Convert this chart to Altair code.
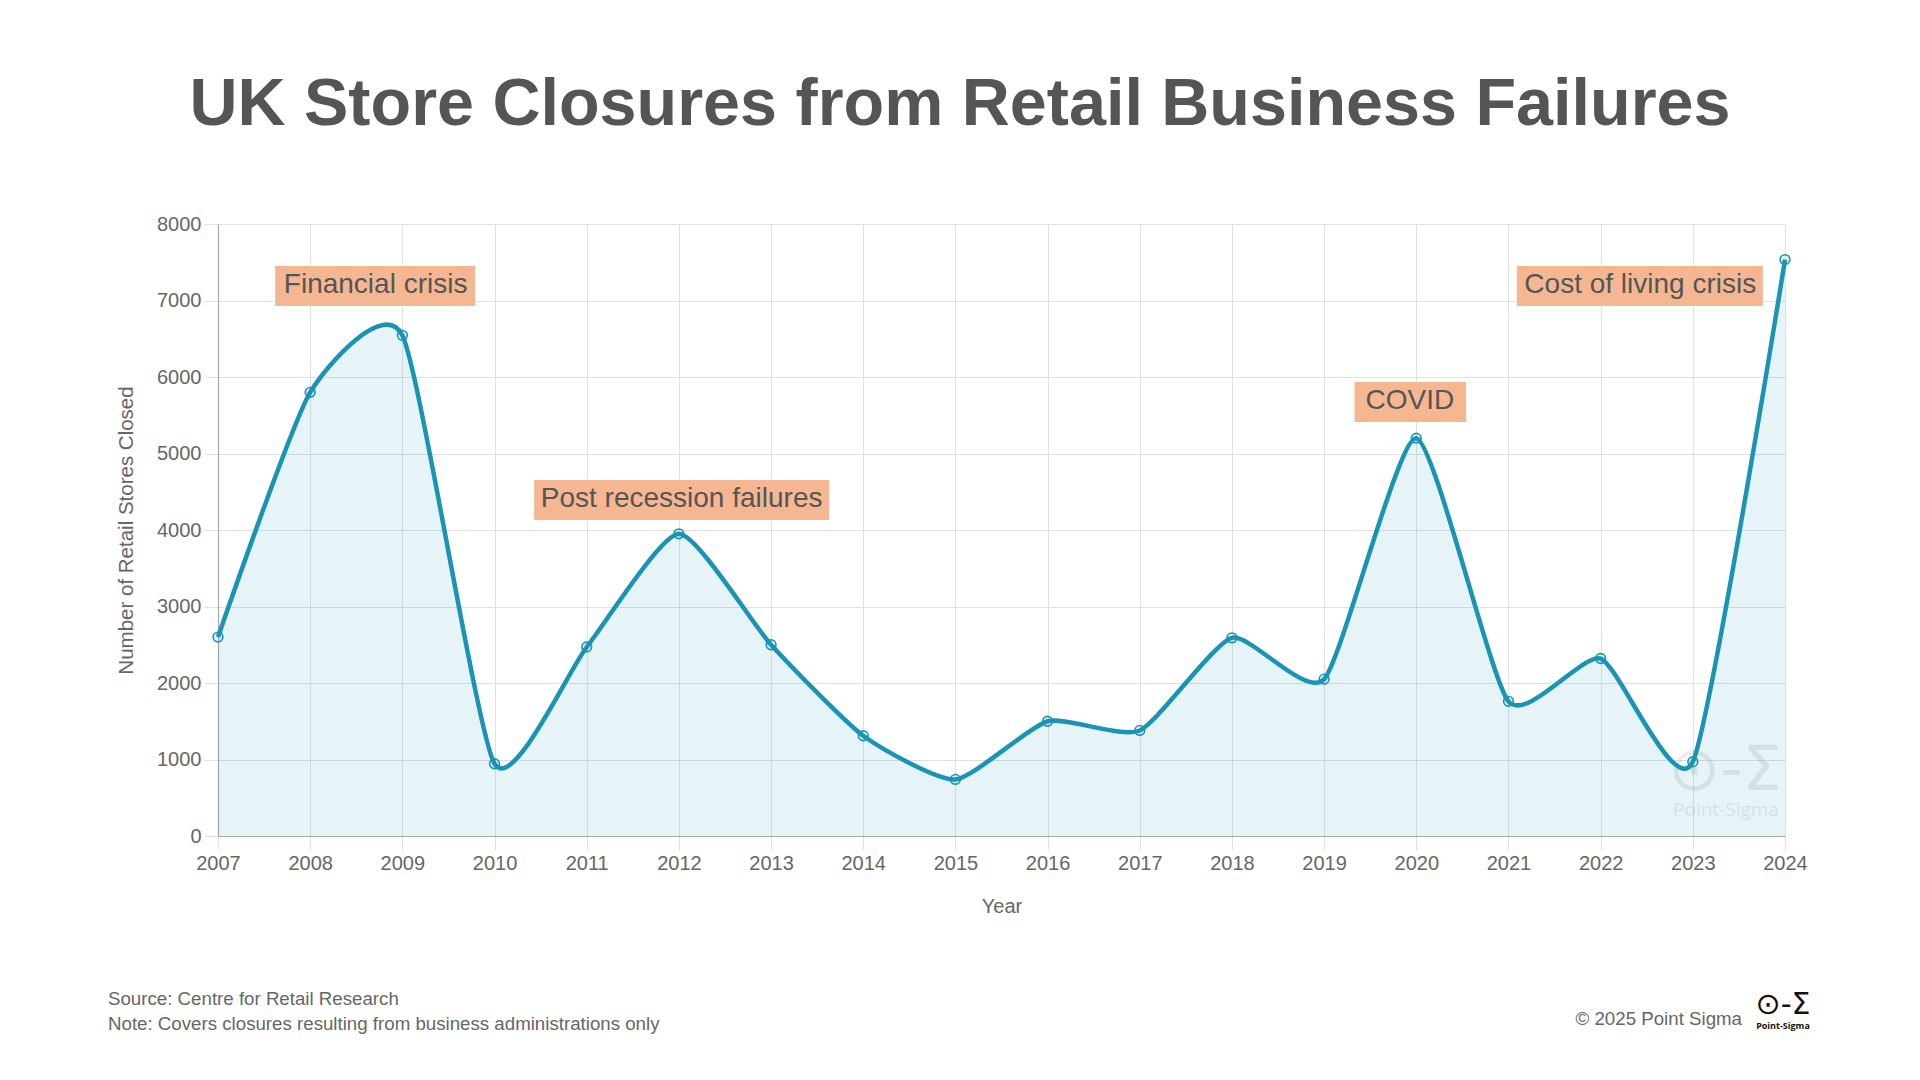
import altair as alt
import pandas as pd

# ---------------- data ----------------
years = list(range(2007, 2025))
closures = [2600, 5800, 6545, 945, 2470, 3950, 2500, 1310, 740, 1500,
            1380, 2590, 2050, 5200, 1760, 2320, 970, 7535]
y_ticks = [0, 1000, 2000, 3000, 4000, 5000, 6000, 7000, 8000]

ann_labels = ["Financial crisis", "Post recession failures", "COVID", "Cost of living crisis"]
ann_x = [2008.71, 2012.03, 2019.93, 2022.43]
ann_y = [7100, 4300, 5580, 7100]
box_x0 = [2007.62, 2010.43, 2019.33, 2021.09]
box_x1 = [2009.79, 2013.63, 2020.54, 2023.76]
box_y0 = [6927, 4132, 5412, 6927]
box_y1 = [7450, 4655, 5935, 7450]

title_text = "UK Store Closures from Retail Business Failures"
source_text = "Source: Centre for Retail Research"
note_text = "Note: Covers closures resulting from business administrations only"
copyright_text = "\u00a9 2025 Point Sigma"
logo_glyph = "\u2299-\u03a3"
logo_name = "Point-Sigma"

df = pd.DataFrame({"Year": years, "Closures": closures})
ann = pd.DataFrame({"label": ann_labels, "ax": ann_x, "ay": ann_y,
                    "bx0": box_x0, "bx1": box_x1, "by0": box_y0, "by1": box_y1})
one = pd.DataFrame({"k": [0]})

# ---------------- style ----------------
FONT = "Liberation Sans"
LINE = "#1b93b4"
GRID = "#e0e0e0"
TXT = "#666666"
DARK = "#555555"
W, H = 1567, 612
CURVE = "cardinal"
TENSION = 0.42

xscale = alt.Scale(domain=[2007, 2024], nice=False, zero=False)
yscale = alt.Scale(domain=[0, 8000], nice=False, zero=True)

xaxis = alt.Axis(values=years, format="d", title="Year", grid=True,
                 gridColor=GRID, gridWidth=1, tickColor=GRID, tickSize=14,
                 domainColor="#a8a8a8", domainWidth=1.2, labelFlush=False,
                 labelFont=FONT, labelFontSize=20, labelColor=TXT, labelPadding=3,
                 titleFont=FONT, titleFontSize=20, titleColor=TXT, titleFontWeight="normal",
                 titleY=70, titleBaseline="middle")
yaxis = alt.Axis(values=y_ticks, format="d", title="Number of Retail Stores Closed", grid=True,
                 gridColor=GRID, gridWidth=1, tickColor=GRID, tickSize=14,
                 domainColor="#a8a8a8", domainWidth=1.2,
                 labelFont=FONT, labelFontSize=20, labelColor=TXT, labelPadding=3,
                 titleFont=FONT, titleFontSize=20.5, titleColor=TXT, titleFontWeight="normal",
                 titleX=-92, titleY=H / 2, titleAngle=-90, titleAlign="center",
                 titleBaseline="middle")


def X(field):
    return alt.X(f"{field}:Q", scale=xscale, axis=xaxis)


def Y(field):
    return alt.Y(f"{field}:Q", scale=yscale, axis=yaxis)


area = alt.Chart(df).mark_area(interpolate=CURVE, tension=TENSION, color=LINE,
                               fillOpacity=0.11).encode(x=X("Year"), y=Y("Closures"))
line = alt.Chart(df).mark_line(interpolate=CURVE, tension=TENSION, color=LINE,
                               strokeWidth=4.5).encode(x=X("Year"), y=Y("Closures"))
points = alt.Chart(df).mark_point(shape="circle", size=95, filled=True, fill=LINE,
                                  fillOpacity=0.12, stroke=LINE, strokeOpacity=1,
                                  strokeWidth=1.6, opacity=1).encode(
    x=X("Year"), y=Y("Closures"))

boxes = alt.Chart(ann).mark_rect(color="#f5b792").encode(
    x=X("bx0"), x2="bx1", y=Y("by0"), y2="by1")
labels = alt.Chart(ann).mark_text(font=FONT, fontSize=28, color=DARK, align="center",
                                  baseline="alphabetic").encode(
    x=X("ax"), y=Y("ay"), text="label:N")


def ptext(text, x, y, size, color, align="left", weight="normal", font=FONT, opacity=1.0):
    return alt.Chart(one).mark_text(text=text, font=font, fontSize=size, color=color,
                                    align=align, baseline="alphabetic", fontWeight=weight,
                                    opacity=opacity).encode(x=alt.value(x), y=alt.value(y))


title = ptext(title_text, 742, -99, 66.5, DARK, align="center", weight="bold")
src = ptext(source_text, -110, 781, 18.7, TXT)
note = ptext(note_text, -110, 806, 18.7, TXT)
copy = ptext(copyright_text, 1524, 801, 18.7, TXT, align="right")
logo1 = ptext(logo_glyph, 1565, 790, 30, "#111111", align="center", font="DejaVu Sans")
logo2 = ptext(logo_name, 1565, 805, 9, "#111111", align="center", weight="bold", font="Open Sans")
wm1 = ptext(logo_glyph, 1507, 566, 62, "#000000", align="center", font="DejaVu Sans", opacity=0.07)
wm2 = ptext(logo_name, 1508, 592, 19, "#000000", align="center", font="Open Sans", opacity=0.07)

chart = alt.layer(area, wm1, wm2, line, points, boxes, labels,
                  title, src, note, copy, logo1, logo2).properties(
    width=W, height=H,
    autosize=alt.AutoSizeParams(type="none"),
    padding={"left": 210, "top": 216, "right": 127, "bottom": 232},
    background="white",
).configure_view(stroke=None)

chart.save("out.html", embed_options={"renderer": "svg", "actions": False})
